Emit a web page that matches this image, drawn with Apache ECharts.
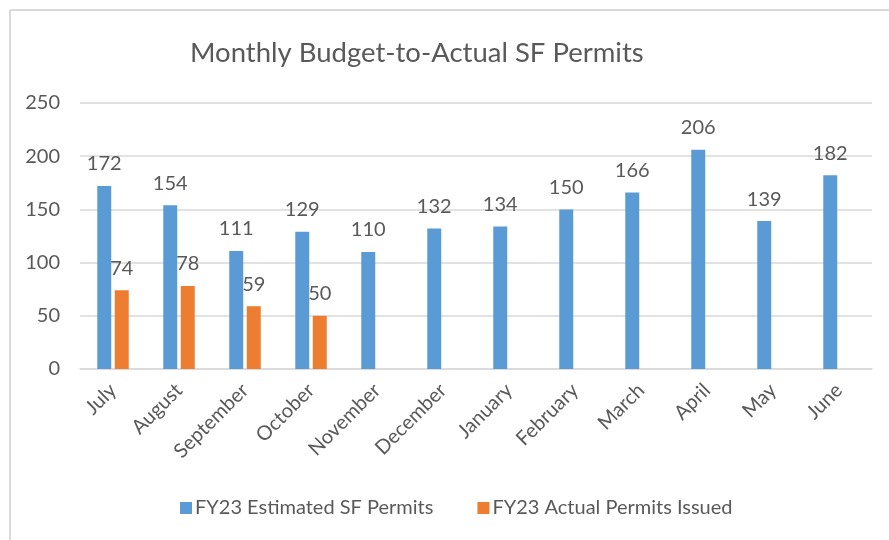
<!DOCTYPE html>
<html>
<head>
<meta charset="utf-8">
<script src="https://cdn.jsdelivr.net/npm/echarts@6/dist/echarts.min.js"></script>
<style>
html,body{margin:0;padding:0;background:#fff;}
#chart{width:889px;height:540px;}
</style>
</head>
<body>
<div id="chart"></div>
<script>
var months = ['July','August','September','October','November','December','January','February','March','April','May','June'];
var estimated = [172,154,111,129,110,132,134,150,166,206,139,182];
var actual = [74,78,59,50,null,null,null,null,null,null,null,null];
var yTicks = {min:0, max:250, interval:50};
var seriesNames = ['FY23 Estimated SF Permits','FY23 Actual Permits Issued'];

var FONT = 'Lato, "Open Sans", sans-serif';
var TXT = '#595959';
var chart = echarts.init(document.getElementById('chart'));
chart.setOption({
  animation:false,
  backgroundColor:'#fff',
  title:{
    text:'Monthly Budget-to-Actual SF Permits',
    left:185, top:34,
    textStyle:{fontFamily:FONT, fontSize:27.5, fontWeight:'normal', color:TXT}
  },
  legend:{
    bottom:17, left:175,
    itemWidth:12, itemHeight:12, itemGap:44,
    icon:'rect',
    textStyle:{fontFamily:FONT, fontSize:20, color:TXT, padding:[0,0,0,-2]},
    data:seriesNames
  },
  grid:{left:80, right:17, top:103, bottom:171, containLabel:false},
  xAxis:{
    type:'category',
    data:months,
    axisLine:{lineStyle:{color:'#D9D9D9', width:1.5}},
    axisTick:{show:false},
    axisLabel:{rotate:45, fontFamily:FONT, fontSize:20, color:TXT, margin:18, interval:0}
  },
  yAxis:{
    type:'value',
    min:yTicks.min, max:yTicks.max, interval:yTicks.interval,
    axisLine:{show:false},
    axisTick:{show:false},
    splitLine:{lineStyle:{color:'#D9D9D9', width:1.5}},
    axisLabel:{fontFamily:FONT, fontSize:20, color:TXT, margin:20}
  },
  series:[
    {name:seriesNames[0], type:'bar', data:estimated, barWidth:14, barGap:'25%',
     itemStyle:{color:'#5B9BD5'},
     label:{show:true, position:'top', distance:12, fontFamily:FONT, fontSize:20, color:TXT}},
    {name:seriesNames[1], type:'bar', data:actual, barWidth:14, barGap:'25%',
     itemStyle:{color:'#ED7D31'},
     label:{show:true, position:'top', distance:12, fontFamily:FONT, fontSize:20, color:TXT}}
  ],
  graphic:[
    {type:'line', shape:{x1:10, y1:10, x2:889, y2:10}, style:{stroke:'#D9D9D9', lineWidth:2}},
    {type:'line', shape:{x1:10, y1:10, x2:10, y2:540}, style:{stroke:'#D9D9D9', lineWidth:2}}
  ]
});
</script>
</body>
</html>
